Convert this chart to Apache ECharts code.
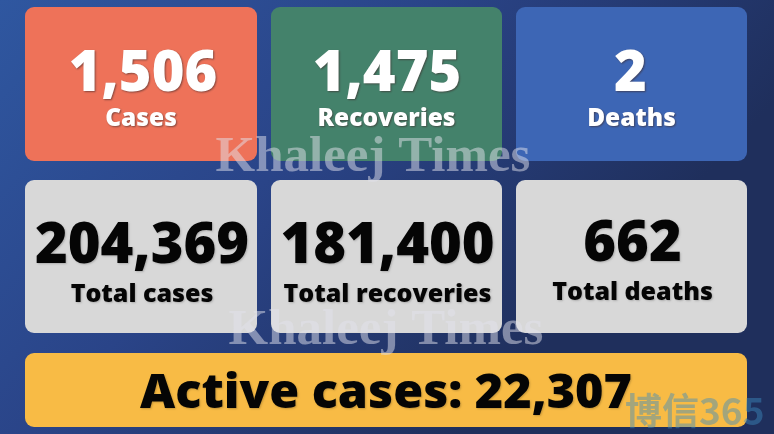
<!DOCTYPE html>
<html>
<head>
<meta charset="utf-8">
<style>html,body{margin:0;padding:0;background:#2a4688}#main{width:774px;height:434px}</style>
<script src="https://cdn.jsdelivr.net/npm/echarts@6/dist/echarts.min.js"></script>
</head>
<body>
<div id="main"></div>
<script>
var topValues = ['1,506', '1,475', '2'];
var topLabels = ['Cases', 'Recoveries', 'Deaths'];
var topColors = ['#ee7259', '#44826b', '#3d66b5'];
var totalValues = ['204,369', '181,400', '662'];
var totalLabels = ['Total cases', 'Total recoveries', 'Total deaths'];
var activeLabel = 'Active cases: 22,307';
var watermarkText = 'Khaleej Times';
var cornerText = '博信365';

var colX = [25, 271, 516];
var colW = [232, 231, 231];
var font = '"Open Sans", sans-serif';

function card(x, y, w, h, color, r) {
	return {
		type: 'rect', z: 1,
		shape: {x: x, y: y, width: w, height: h, r: r},
		style: {fill: color}
	};
}

function label(x, y, str, size, color, shadow) {
	return {
		type: 'text', z: 3,
		x: x, y: y,
		style: {
			text: str, align: 'center', verticalAlign: 'middle',
			font: '800 ' + size + 'px ' + font,
			fill: color,
			textShadowColor: shadow, textShadowBlur: 2, textShadowOffsetX: 1, textShadowOffsetY: 1
		}
	};
}

function watermark(x, y) {
	return {
		type: 'text', z: 4,
		x: x, y: y,
		style: {
			text: watermarkText, align: 'center', verticalAlign: 'middle',
			font: 'bold 51px "Liberation Serif", serif',
			fill: 'rgba(225,225,235,0.5)'
		}
	};
}

var elements = [];
// background
elements.push({
	type: 'rect', z: 0,
	shape: {x: 0, y: 0, width: 774, height: 434},
	style: {fill: new echarts.graphic.LinearGradient(0, 0, 0.6, 1, [
		{offset: 0, color: '#2f57a0'},
		{offset: 0.5, color: '#2a4488'},
		{offset: 1, color: '#1f2f5c'}
	])}
});

topValues.forEach(function(v, i) {
	var cx = colX[i] + colW[i] / 2;
	elements.push(card(colX[i], 7, colW[i], 154, topColors[i], 9));
	elements.push(label(cx + 2 - i * 1.5, 75, v, 56, '#ffffff', 'rgba(60,40,40,0.6)'));
	elements.push(label(cx, 119, topLabels[i], 24.5, '#ffffff', 'rgba(60,40,40,0.6)'));
});

totalValues.forEach(function(v, i) {
	var cx = colX[i] + colW[i] / 2;
	var dy = i == 2 ? -2 : 0;
	elements.push(card(colX[i], 180, colW[i], 153, '#d8d8d8', 9));
	elements.push(label(cx + 1, 247 + dy, v, 56, '#050505', 'rgba(0,0,0,0.2)'));
	elements.push(label(cx + 1, 295 + dy, totalLabels[i], 25, '#050505', 'rgba(0,0,0,0.2)'));
});

elements.push(card(25, 353, 722, 74, '#f8bb45', 9));
elements.push(label(386, 394, activeLabel, 48.5, '#050505', 'rgba(0,0,0,0.2)'));

elements.push(watermark(373, 158));
elements.push(watermark(386, 331));

elements.push({
	type: 'text', z: 5,
	x: 625, y: 392,
	style: {
		text: cornerText,
		font: 'bold 37px "Noto Sans CJK SC", sans-serif',
		fill: 'rgba(60,140,190,0.45)'
	}
});

var chart = echarts.init(document.getElementById('main'));
chart.setOption({
	animation: false,
	graphic: {elements: elements}
});
</script>
</body>
</html>
